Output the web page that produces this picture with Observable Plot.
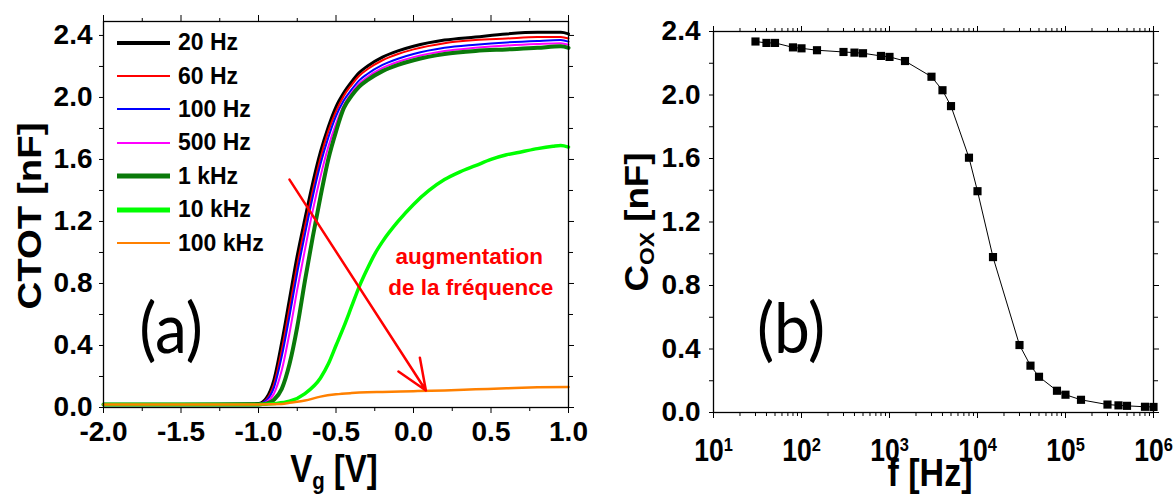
<!DOCTYPE html>
<html><head><meta charset="utf-8">
<script src="https://cdn.jsdelivr.net/npm/d3@7"></script>
<script src="https://cdn.jsdelivr.net/npm/@observablehq/plot@0.6"></script>
<style>
body{margin:0;background:#fff;}
#wrap{position:relative;width:1174px;height:498px;overflow:hidden;font-family:"Liberation Sans",Arial,sans-serif;background:#fff;}
.panel{position:absolute;top:0;}
.ttl{position:absolute;font-weight:bold;white-space:nowrap;color:#000;line-height:1;}
.ttl sub{font-size:0.62em;vertical-align:-0.3em;}
.big{position:absolute;font-family:Lato,"Open Sans",sans-serif;font-size:64px;line-height:1;white-space:nowrap;color:#000;}
#legend{position:absolute;left:117px;top:26px;}
.lrow{display:flex;align-items:center;height:33.4px;}
.lrow span{font-weight:bold;font-size:23px;margin-left:8px;display:inline-block;transform:scaleY(1.06);}
</style></head>
<body><div id="wrap">
<div class="panel" id="pa" style="left:0"></div>
<div class="panel" id="pb" style="left:600px"></div>
<div id="legend"></div>
<div class="ttl" style="font-size:34px;left:29px;top:216px;transform:translate(-50%,-50%) rotate(-90deg) scaleX(1.13);">CTOT [nF]</div>
<div class="ttl" style="font-size:33px;left:334px;top:471px;transform:translate(-50%,-50%) scaleY(1.16);">V<sub>g</sub> [V]</div>
<div class="ttl" style="font-size:34px;left:638px;top:222px;transform:translate(-50%,-50%) rotate(-90deg) scaleX(1.08);">C<sub>OX</sub> [nF]</div>
<div class="ttl" style="font-size:34px;left:930px;top:472px;transform:translate(-50%,-50%) scaleY(1.16);">f [Hz]</div>
<div class="big" style="left:171px;top:327px;transform:translate(-50%,-50%) scaleY(1.1);">(a)</div>
<div class="big" style="left:791px;top:327px;transform:translate(-50%,-50%) scaleY(1.1);">(b)</div>
</div>
<script>
// ---------- Panel (a) data : CTOT vs Vg ----------
const vg = [-2.0,-1.5,-1.0,-0.95,-0.9,-0.85,-0.8,-0.75,-0.7,-0.65,-0.6,-0.55,-0.5,-0.45,-0.4,-0.35,-0.3,-0.2,-0.1,0.0,0.2,0.4,0.6,0.8,0.95,1.0];
const c20Hz  = [0.02,0.02,0.025,0.06,0.18,0.42,0.70,0.98,1.22,1.45,1.65,1.81,1.94,2.03,2.10,2.16,2.20,2.26,2.30,2.33,2.37,2.39,2.41,2.42,2.42,2.41];
const c60Hz  = [0.02,0.02,0.022,0.05,0.15,0.37,0.64,0.92,1.17,1.40,1.61,1.78,1.91,2.01,2.08,2.14,2.18,2.24,2.28,2.31,2.35,2.37,2.38,2.39,2.39,2.38];
const c100Hz = [0.02,0.02,0.022,0.045,0.13,0.33,0.59,0.87,1.12,1.36,1.57,1.74,1.88,1.98,2.05,2.11,2.15,2.21,2.25,2.28,2.32,2.34,2.355,2.365,2.37,2.36];
const c500Hz = [0.02,0.02,0.02,0.035,0.09,0.24,0.48,0.76,1.02,1.27,1.49,1.68,1.83,1.95,2.03,2.09,2.13,2.19,2.23,2.26,2.30,2.32,2.335,2.345,2.35,2.34];
const c1kHz  = [0.02,0.02,0.02,0.025,0.05,0.12,0.28,0.52,0.82,1.10,1.36,1.60,1.78,1.93,2.01,2.07,2.11,2.17,2.21,2.24,2.28,2.30,2.31,2.32,2.33,2.32];
const vg10k  = [-2.0,-1.0,-0.9,-0.8,-0.7,-0.6,-0.55,-0.5,-0.45,-0.4,-0.35,-0.3,-0.25,-0.2,-0.1,0.0,0.1,0.2,0.3,0.4,0.5,0.6,0.7,0.8,0.9,0.95,1.0];
const c10kHz = [0.02,0.02,0.025,0.04,0.09,0.19,0.28,0.40,0.52,0.65,0.78,0.89,0.99,1.07,1.20,1.31,1.40,1.47,1.52,1.56,1.60,1.63,1.65,1.67,1.685,1.69,1.68];
const vg100k = [-2.0,-1.0,-0.85,-0.8,-0.7,-0.6,-0.5,-0.4,-0.3,-0.2,0.0,0.2,0.4,0.6,0.8,1.0];
const c100kHz= [0.02,0.02,0.022,0.03,0.045,0.07,0.085,0.093,0.098,0.10,0.105,0.11,0.117,0.124,0.13,0.133];
const seriesNames = ["20 Hz","60 Hz","100 Hz","500 Hz","1 kHz","10 kHz","100 kHz"];
const seriesX = [vg, vg, vg, vg, vg, vg10k, vg100k];
const seriesY = [c20Hz, c60Hz, c100Hz, c500Hz, c1kHz, c10kHz, c100kHz];
const xTicksA = [-2.0,-1.5,-1.0,-0.5,0.0,0.5,1.0];
const yTicksA = [0.0,0.4,0.8,1.2,1.6,2.0,2.4];
const annotText = ["augmentation","de la fréquence"];
const annotV = [0.36,0.37];
const annotC = [0.97,0.77];
const arrowFrom = [-0.8,1.47];
const arrowTo = [0.08,0.11];

// ---------- Panel (b) data : Cox vs f ----------
const freqHz = [30,40,50,80,100,150,300,400,500,800,1000,1500,3000,4000,5000,8000,10000,15000,30000,40000,50000,80000,100000,150000,300000,400000,500000,800000,1000000];
const coxNF  = [2.337,2.328,2.328,2.30,2.294,2.282,2.271,2.267,2.263,2.246,2.24,2.214,2.115,2.03,1.93,1.605,1.394,0.979,0.425,0.295,0.225,0.137,0.112,0.08,0.05,0.045,0.042,0.036,0.035];
const xTicksB = [10,100,1000,10000,100000,1000000];
const yTicksB = [0.0,0.4,0.8,1.2,1.6,2.0,2.4];

// ---------- styles ----------
const FONT = '"Liberation Sans", Arial, sans-serif';
const seriesColors = ["#000000","#ff0000","#0000ff","#ff00ff","#0a7a0a","#00ff00","#ff8000"];
const seriesWidths = [3,2,2,2,4,3.5,2.5];
const legendWidths = [4,2,2,2,5,5,2];
const NARROW = 0.855;   // horizontal squeeze of the power-of-ten labels

const fmt1 = d => d.toFixed(1);
const minorBetween = (ticks) => ticks.slice(0,-1).map((t,i)=> +( (t+ticks[i+1])/2 ).toFixed(3));
const blank = () => "";

// squeeze texts (with tspans) horizontally, without moving them
function narrowTexts(svg){
  svg.querySelectorAll("text").forEach(t=>{
    const spans = t.querySelectorAll("tspan");
    if(!spans.length) return;
    spans.forEach(el=>{
      const len = el.getComputedTextLength();
      if(len > 0){
        el.setAttribute("textLength", (len*NARROW).toFixed(2));
        el.setAttribute("lengthAdjust","spacingAndGlyphs");
      }
    });
  });
}

// ---------- Panel (a) ----------
const lineMarks = seriesNames.map((name,k) => {
  const data = seriesX[k].map((v,i)=>({v, c: seriesY[k][i]}));
  return Plot.line(data, {x:"v", y:"c", stroke: seriesColors[k], strokeWidth: seriesWidths[k], curve:"monotone-x"});
});
const annot = annotText.map((t,i)=>({t, v:annotV[i], c:annotC[i]}));
const plotA = Plot.plot({
  width:600, height:498,
  marginLeft:103, marginRight:32, marginTop:21, marginBottom:91,
  style:{fontFamily:FONT, fontWeight:"bold", fontSize:"28px", color:"#000", background:"transparent"},
  x:{domain:[-2,1]},
  y:{domain:[0,2.49]},
  marks:[
    ...lineMarks,
    Plot.arrow([{x1:arrowFrom[0],y1:arrowFrom[1],x2:arrowTo[0],y2:arrowTo[1]}], {x1:"x1",y1:"y1",x2:"x2",y2:"y2", stroke:"#ff0000", strokeWidth:2.5, headLength:20, headAngle:45}),
    Plot.text(annot, {x:"v", y:"c", text:"t", fill:"#ff0000", fontSize:22.5, fontWeight:"bold"}),
    Plot.frame({stroke:"#000", strokeWidth:1.3}),
    Plot.axisX(xTicksA, {anchor:"bottom", tickSize:6, tickPadding:8, tickFormat:fmt1, label:null}),
    Plot.axisX(minorBetween(xTicksA), {anchor:"bottom", tickSize:4, tickFormat:blank, label:null}),
    Plot.axisX(xTicksA, {anchor:"top", tickSize:7, tickFormat:blank, label:null}),
    Plot.axisX(minorBetween(xTicksA), {anchor:"top", tickSize:4, tickFormat:blank, label:null}),
    Plot.axisY(yTicksA, {anchor:"left", tickSize:4, tickPadding:7, tickFormat:fmt1, label:null}),
    Plot.axisY(minorBetween(yTicksA), {anchor:"left", tickSize:4, tickFormat:blank, label:null}),
    Plot.axisY(yTicksA, {anchor:"right", tickSize:5, tickFormat:blank, label:null}),
    Plot.axisY(minorBetween(yTicksA), {anchor:"right", tickSize:4, tickFormat:blank, label:null})
  ]
});
document.getElementById("pa").append(plotA);

// legend
const leg = document.getElementById("legend");
seriesNames.forEach((n,k)=>{
  const row = document.createElement("div"); row.className="lrow";
  row.innerHTML = `<svg width="53" height="10"><line x1="0" y1="5" x2="53" y2="5" stroke="${seriesColors[k]}" stroke-width="${legendWidths[k]}"/></svg><span>${n}</span>`;
  leg.append(row);
});

// ---------- Panel (b) ----------
const dataB = freqHz.map((f,i)=>({f, c:coxNF[i]}));
const minorLog = [];
xTicksB.slice(0,-1).forEach(d=>{ for(let m=2;m<=9;m++) minorLog.push(d*m); });
const plotB = Plot.plot({
  width:574, height:498,
  marginLeft:113, marginRight:21, marginTop:31, marginBottom:86,
  style:{fontFamily:FONT, fontWeight:"bold", fontSize:"28px", color:"#000", background:"transparent"},
  x:{type:"log", domain:[10,1e6]},
  y:{domain:[0,2.4]},
  marks:[
    Plot.line(dataB, {x:"f", y:"c", stroke:"#000", strokeWidth:1}),
    Plot.dot(dataB, {x:"f", y:"c", symbol:"square", fill:"#000", r:4.6}),
    Plot.frame({stroke:"#000", strokeWidth:1.3}),
    Plot.axisX(xTicksB, {anchor:"bottom", tickSize:6, tickPadding:20, fontSize:31, tickFormat:d=>"10^"+Math.round(Math.log10(d)), label:null}),
    Plot.axisX(minorLog, {anchor:"bottom", tickSize:4, tickFormat:blank, label:null}),
    Plot.axisX(xTicksB, {anchor:"top", tickSize:6, tickFormat:blank, label:null}),
    Plot.axisX(minorLog, {anchor:"top", tickSize:4, tickFormat:blank, label:null}),
    Plot.axisY(yTicksB, {anchor:"left", tickSize:4, tickPadding:9, tickFormat:fmt1, label:null}),
    Plot.axisY(minorBetween(yTicksB), {anchor:"left", tickSize:4, tickFormat:blank, label:null}),
    Plot.axisY(yTicksB, {anchor:"right", tickSize:5, tickFormat:blank, label:null}),
    Plot.axisY(minorBetween(yTicksB), {anchor:"right", tickSize:4, tickFormat:blank, label:null})
  ]
});
const NS = "http://www.w3.org/2000/svg";
plotB.querySelectorAll("text").forEach(t=>{
  const m = t.textContent.match(/^10\^(\d)$/);
  if(m){
    t.textContent = "";
    t.setAttribute("font-size","31");
    const a = document.createElementNS(NS,"tspan"); a.textContent = "10";
    const b = document.createElementNS(NS,"tspan"); b.textContent = m[1];
    b.setAttribute("dy","-0.5em"); b.setAttribute("font-size","0.62em");
    t.append(a,b);
  }
});
document.getElementById("pb").append(plotB);
narrowTexts(plotB);
</script>
</body></html>
